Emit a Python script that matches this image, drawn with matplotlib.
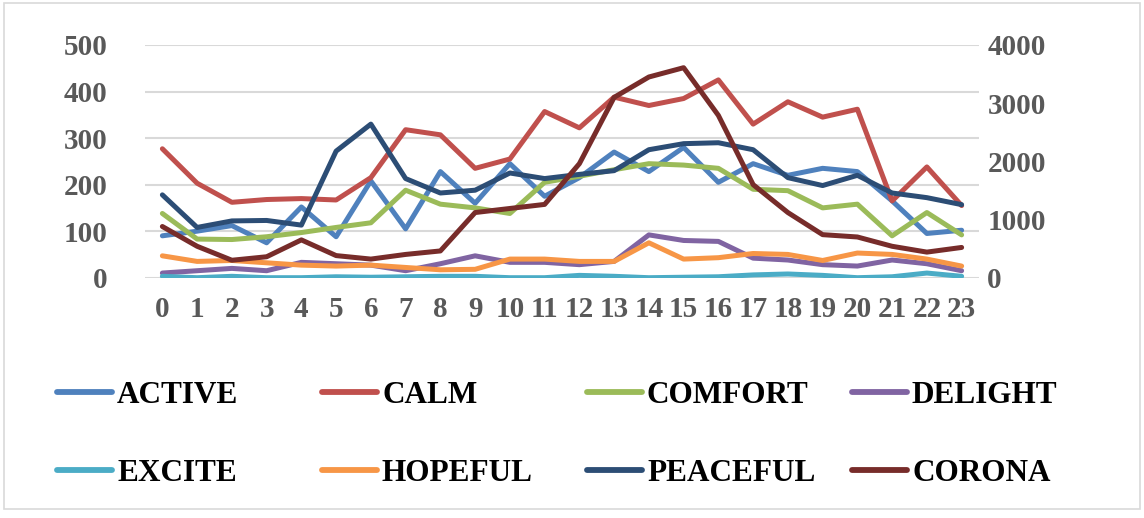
import matplotlib
matplotlib.use("Agg")
import matplotlib.pyplot as plt
from matplotlib.lines import Line2D
from matplotlib.patches import Rectangle

hours = list(range(24))
hour_labels = [str(h) for h in hours]

active   = [90, 100, 112, 75, 152, 88, 208, 105, 228, 160, 245, 175, 215, 270, 228, 280, 205, 245, 220, 235, 228, 165, 95, 102]
calm     = [277, 203, 162, 168, 170, 167, 215, 318, 307, 235, 255, 357, 322, 388, 370, 385, 425, 330, 378, 345, 362, 165, 238, 155]
comfort  = [138, 83, 82, 88, 97, 108, 118, 188, 158, 150, 138, 205, 218, 232, 245, 242, 235, 190, 187, 150, 158, 90, 140, 92]
delight  = [10, 15, 20, 15, 33, 30, 27, 15, 30, 47, 33, 33, 28, 35, 92, 80, 78, 42, 38, 28, 25, 38, 30, 15]
excite   = [3, 0, 3, 0, 0, 2, 1, 2, 3, 3, 0, 0, 5, 3, 0, 1, 2, 6, 8, 5, 0, 2, 10, 3]
hopeful  = [47, 35, 37, 32, 27, 25, 27, 22, 17, 18, 40, 40, 35, 35, 75, 40, 43, 52, 50, 37, 53, 50, 40, 25]
peaceful = [178, 108, 122, 123, 113, 272, 330, 213, 182, 188, 225, 213, 222, 230, 275, 288, 290, 275, 215, 198, 220, 182, 172, 157]
corona   = [880, 540, 300, 360, 650, 380, 320, 400, 460, 1120, 1190, 1260, 1960, 3100, 3450, 3610, 2790, 1600, 1120, 740, 700, 540, 440, 520]

left_ticks = [0, 100, 200, 300, 400, 500]
right_ticks = [0, 1000, 2000, 3000, 4000]

primary = [
    ("ACTIVE", active, "#4F81BD"),
    ("CALM", calm, "#C0504D"),
    ("COMFORT", comfort, "#9BBB59"),
    ("DELIGHT", delight, "#8064A2"),
    ("EXCITE", excite, "#4BACC6"),
    ("HOPEFUL", hopeful, "#F79646"),
    ("PEACEFUL", peaceful, "#2C4D75"),
]
secondary = ("CORONA", corona, "#772C2A")

W, H = 1144, 518
fig = plt.figure(figsize=(W / 100, H / 100), dpi=100)
fig.patch.set_facecolor("white")

serif = ["Liberation Serif", "DejaVu Serif"]
tick_color = "#595959"
fs_tick = 21
lw = 3.6

ax = fig.add_axes([145 / W, (H - 277.7) / H, 834 / W, 232.7 / H])
ax2 = ax.twinx()

for name, vals, col in primary:
    ax.plot(hours, vals, color=col, lw=lw, solid_joinstyle="round", solid_capstyle="round", zorder=3)
ax2.plot(hours, secondary[1], color=secondary[2], lw=lw, solid_joinstyle="round", solid_capstyle="round")

ax.set_xlim(-0.5, 23.5)
ax.set_ylim(0, 500)
ax2.set_ylim(0, 4000)
ax.set_yticks(left_ticks)
ax2.set_yticks(right_ticks)
ax.set_xticks(hours)
ax.set_xticklabels(hour_labels)

ax.yaxis.grid(True, color="#D9D9D9", lw=1.5, zorder=0)
ax.set_axisbelow(True)
for a in (ax, ax2):
    for s in a.spines.values():
        s.set_visible(False)
ax.tick_params(axis="both", length=0)
ax2.tick_params(axis="both", length=0)
ax.tick_params(axis="y", pad=27)
ax.tick_params(axis="x", pad=13)
ax2.tick_params(axis="y", pad=6)

for lab in ax.get_yticklabels() + ax.get_xticklabels() + ax2.get_yticklabels():
    lab.set_fontfamily(serif)
    lab.set_fontweight("bold")
    lab.set_fontsize(fs_tick)
    lab.set_color(tick_color)

# Legend: 4 columns x 2 rows, row-major, uniform column spacing
entries = [(n, c) for n, _, c in primary] + [(secondary[0], secondary[2])]
col_x = [57, 322, 587, 852]
row_y = [392, 470]
for i, (name, col) in enumerate(entries):
    r, cidx = divmod(i, 4)
    x0 = col_x[cidx]
    y = row_y[r]
    fig.add_artist(Line2D([x0 / W, (x0 + 55) / W], [(H - y) / H, (H - y) / H],
                          transform=fig.transFigure, color=col, lw=4.2, solid_capstyle="round"))
    fig.text((x0 + 60) / W, (H - y) / H, name, ha="left", va="center_baseline",
             fontfamily=serif, fontweight="bold", fontsize=22.5, color="black")

fig.patches.append(Rectangle((4 / W, (H - 509) / H), 1136 / W, 506 / H, transform=fig.transFigure,
                             fill=False, edgecolor="#D9D9D9", lw=1.2))

fig.savefig("out.png", dpi=100, facecolor="white")
